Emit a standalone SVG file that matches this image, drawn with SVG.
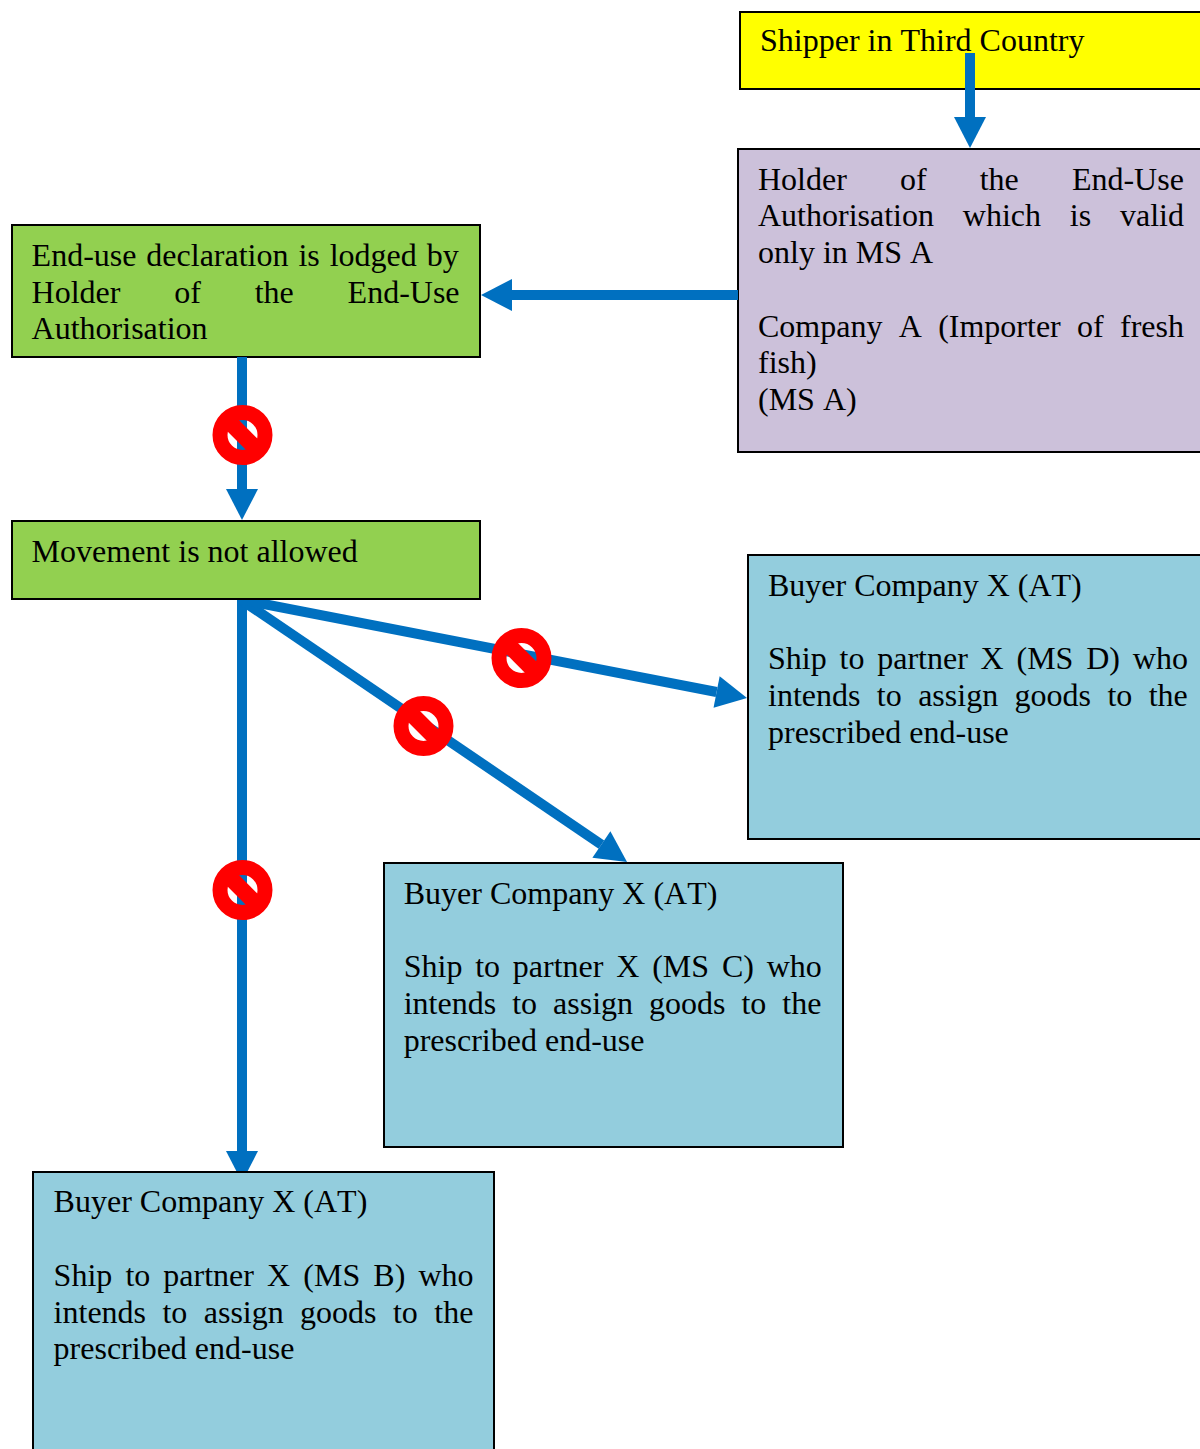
<svg xmlns="http://www.w3.org/2000/svg" width="1200" height="1449" viewBox="0 0 1200 1449">
<style>
text{font-family:"Liberation Serif","Times New Roman",serif;font-size:32px;fill:#000;font-kerning:none}
.b{stroke:#000;stroke-width:2}
.y{fill:#FFFF00}.p{fill:#CCC1DA}.g{fill:#92D050}.c{fill:#93CDDD}
.a{stroke:#0070C0;stroke-width:10;fill:none;marker-end:url(#h)}
.n{fill:none;stroke:#FF0000;stroke-width:15}
.nb{stroke:#FF0000;stroke-width:16}
</style>
<defs>
<marker id="h" markerUnits="userSpaceOnUse" markerWidth="31" markerHeight="32" viewBox="0 0 31 32" refX="0" refY="16" orient="auto" overflow="visible"><path d="M0 0L31 16L0 32Z" fill="#0070C0"/></marker>
<g id="no"><circle r="22.5" class="n"/><line x1="-17" y1="-17" x2="17" y2="17" class="nb"/></g>
</defs>
<g id="shipper"><rect class="b y" x="740" y="12" width="470" height="77"/><text x="760" y="51">Shipper in Third Country</text></g>
<g id="holder"><rect class="b p" x="738" y="149" width="472" height="303"/>
<text x="758" y="190" word-spacing="45.1">Holder of the End-Use</text>
<text x="758" y="226" word-spacing="20.8">Authorisation which is valid</text>
<text x="758" y="263">only in MS A</text>
<text x="758" y="337" word-spacing="8.3">Company A (Importer of fresh</text>
<text x="758" y="373">fish)</text>
<text x="758" y="410">(MS A)</text></g>
<g id="declaration"><rect class="b g" x="12" y="225" width="468" height="132"/>
<text x="31.600" y="266" word-spacing="1.9">End-use declaration is lodged by</text>
<text x="31.600" y="303" word-spacing="45.8">Holder of the End-Use</text>
<text x="31.600" y="339">Authorisation</text></g>
<g id="buyer-d"><rect class="b c" x="748" y="555" width="462" height="284"/>
<text x="768" y="596">Buyer Company X (AT)</text>
<text x="768" y="669" word-spacing="4.8">Ship to partner X (MS D) who</text>
<text x="768" y="706" word-spacing="8.4">intends to assign goods to the</text>
<text x="768" y="743">prescribed end-use</text></g>
<g id="buyer-c"><rect class="b c" x="384" y="863" width="459" height="284"/>
<text x="403.700" y="904">Buyer Company X (AT)</text>
<text x="403.700" y="977" word-spacing="4.8">Ship to partner X (MS C) who</text>
<text x="403.700" y="1014" word-spacing="8">intends to assign goods to the</text>
<text x="403.700" y="1051">prescribed end-use</text></g>
<g id="connectors">
<path class="a" d="M970 53V117"/>
<path class="a" d="M738 295H512"/>
<path class="a" d="M242 357V489"/>
<path class="a" d="M242 596V1151"/>
<path class="a" d="M243 601L601.4 844.6"/>
<path class="a" d="M240 599.4L716.6 692"/>
<use href="#no" x="242.500" y="435"/>
<use href="#no" x="242.500" y="890"/>
<use href="#no" x="423.500" y="726"/>
<use href="#no" x="521.500" y="658"/>
</g>
<g id="movement"><rect class="b g" x="12" y="521" width="468" height="78"/><text x="31.600" y="562">Movement is not allowed</text></g>
<g id="buyer-b"><rect class="b c" x="33" y="1172" width="461" height="290"/>
<text x="53.600" y="1212">Buyer Company X (AT)</text>
<text x="53.600" y="1286" word-spacing="5.1">Ship to partner X (MS B) who</text>
<text x="53.600" y="1323" word-spacing="8.4">intends to assign goods to the</text>
<text x="53.600" y="1359">prescribed end-use</text></g>
</svg>
